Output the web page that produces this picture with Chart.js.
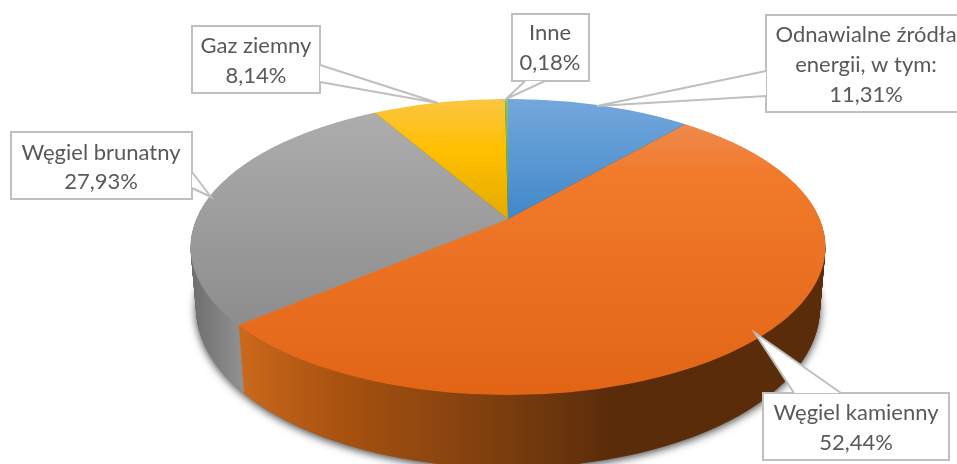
<!DOCTYPE html>
<html lang="pl">
<head>
<meta charset="utf-8">
<title>Struktura paliw</title>
<style>
  html, body { margin: 0; padding: 0; background: #fff; overflow: hidden; }
  #box { position: relative; width: 957px; height: 464px; }
</style>
</head>
<body>
<div id="box"><canvas id="myChart"></canvas></div>

<script src="https://cdn.jsdelivr.net/npm/chart.js@4/dist/chart.umd.min.js"></script>
<script>
// data
const categories = [['Odnawialne źródła', 'energii, w tym:'], ['Węgiel kamienny'], ['Węgiel brunatny'], ['Gaz ziemny'], ['Inne']];
const shares = [11.31, 52.44, 27.93, 8.14, 0.18];

// top face gradients, [page y, colour]
const topStops = [
  [[98, '#74a8dc'], [218, '#4088c9']],
  [[120, '#ef8a4e'], [175, '#f17a2b'], [394, '#e26516']],
  [[112, '#adadad'], [330, '#8c8c8c']],
  [[98, '#fbc544'], [150, '#ffc000'], [219, '#e4aa00']],
  [[98, '#8cc168'], [219, '#5f9c38']]
];
// side wall gradients, [page x, colour]
const wallStops = [
  [[508, '#2a4f73'], [690, '#2a4f73']],
  [[240, '#cb681b'], [340, '#a85210'], [500, '#7c3e0e'], [610, '#5b2c0a'], [825, '#5b2c0a']],
  [[190, '#6c6c6c'], [245, '#939393']],
  [[373, '#8a6a00'], [508, '#8a6a00']],
  [[505, '#3f6a25'], [508, '#3f6a25']]
];

// callout boxes: rectangle, pointer (base, tip, base), label centre and line ys
const callouts = [
  { box: [766, 15, 200, 97], ptr: [[766, 71], [597, 106], [766, 96]], cx: 866, ys: [35, 65], pct: 95 },
  { box: [763, 393, 186, 67], ptr: [[841, 393], [755, 333], [794, 393]], cx: 856, ys: [413], pct: 443 },
  { box: [11, 132, 181, 67], ptr: [[192, 172], [211, 197], [192, 188]], cx: 101, ys: [153], pct: 182 },
  { box: [192, 26, 128, 67], ptr: [[320, 65], [438, 103], [320, 82]], cx: 256, ys: [46], pct: 76 },
  { box: [512, 14, 77, 67], ptr: [[545, 81], [506, 99], [525, 81]], cx: 550, ys: [33], pct: 63 }
];

// projection of the flat doughnut onto the tilted disc
const topRim = { x: 508, y: 247, rx: 317.5, ry: 148 };
const bottomRim = { x: 508, y: 308, rx: 312, ry: 160 };
const apex = { x: 508, y: 219, drop: 70 };
const tilt = 0.46;
const spread = 430;
const wallSteps = 80;

function pct(v) {
  return v.toFixed(2).replace('.', ',') + '%';
}

const pie3d = {
  id: 'pie3d',
  beforeDatasetsDraw(chart) {
    const ctx = chart.ctx;
    const arcs = chart.getDatasetMeta(0).data;
    const cx = arcs[0].x, cy = arcs[0].y, R = arcs[0].outerRadius;
    const sx = spread / R, sy = spread * tilt / R;
    const toX = x => cx + (x - apex.x) / sx;
    const toY = y => cy + (y - apex.y) / sy;

    function paint(i, fill, ax, ay) {
      const arc = arcs[i];
      const keep = arc.options;
      arc.options = Object.assign({}, keep, { backgroundColor: fill, borderWidth: 0 });
      ctx.save();
      ctx.translate(ax, ay);
      ctx.scale(sx, sy);
      ctx.translate(-cx, -cy);
      arc.draw(ctx);
      ctx.restore();
      arc.options = keep;
    }

    // soft shadow under the disc
    ctx.save();
    ctx.shadowColor = 'rgba(0,0,0,0.75)';
    ctx.shadowBlur = 8;
    ctx.shadowOffsetY = 2;
    ctx.fillStyle = '#666';
    ctx.beginPath();
    ctx.ellipse(bottomRim.x, bottomRim.y, bottomRim.rx, bottomRim.ry, 0, 0, Math.PI * 2);
    ctx.fill();
    ctx.restore();

    // side wall, stacked from the bottom rim up
    const wallFills = wallStops.map(stops => {
      const x0 = stops[0][0], x1 = stops[stops.length - 1][0];
      const g = ctx.createLinearGradient(toX(x0), 0, toX(x1), 0);
      stops.forEach(s => g.addColorStop((s[0] - x0) / (x1 - x0), s[1]));
      return g;
    });
    for (let n = wallSteps; n > 0; n--) {
      const t = n / wallSteps;
      ctx.save();
      ctx.beginPath();
      ctx.ellipse(topRim.x, topRim.y + (bottomRim.y - topRim.y) * t,
        topRim.rx + (bottomRim.rx - topRim.rx) * t, topRim.ry + (bottomRim.ry - topRim.ry) * t,
        0, 0, Math.PI * 2);
      ctx.clip();
      arcs.forEach((a, i) => paint(i, wallFills[i], apex.x, apex.y + apex.drop * t));
      ctx.restore();
    }

    // top face
    ctx.save();
    ctx.beginPath();
    ctx.ellipse(topRim.x, topRim.y, topRim.rx, topRim.ry, 0, 0, Math.PI * 2);
    ctx.clip();
    arcs.forEach((a, i) => {
      const stops = topStops[i];
      const y0 = stops[0][0], y1 = stops[stops.length - 1][0];
      const g = ctx.createLinearGradient(0, toY(y0), 0, toY(y1));
      stops.forEach(s => g.addColorStop((s[0] - y0) / (y1 - y0), s[1]));
      paint(i, g, apex.x, apex.y);
    });
    ctx.restore();

    return false;
  },
  afterDraw(chart) {
    const ctx = chart.ctx;
    ctx.save();
    ctx.font = '22px Lato';
    ctx.textAlign = 'center';
    ctx.textBaseline = 'middle';
    callouts.forEach((c, i) => {
      const [x, y, w, h] = c.box;
      ctx.fillStyle = '#fff';
      ctx.strokeStyle = '#bfbfbf';
      ctx.lineWidth = 2;
      // box first, then the pointer on top, which blanks out the seam between them
      ctx.fillRect(x, y, w, h);
      ctx.strokeRect(x, y, w, h);
      ctx.beginPath();
      ctx.moveTo(c.ptr[0][0], c.ptr[0][1]);
      ctx.lineTo(c.ptr[1][0], c.ptr[1][1]);
      ctx.lineTo(c.ptr[2][0], c.ptr[2][1]);
      ctx.closePath();
      ctx.fill();
      ctx.beginPath();
      ctx.moveTo(c.ptr[0][0], c.ptr[0][1]);
      ctx.lineTo(c.ptr[1][0], c.ptr[1][1]);
      ctx.lineTo(c.ptr[2][0], c.ptr[2][1]);
      ctx.stroke();
      ctx.fillStyle = '#595959';
      categories[i].forEach((line, k) => ctx.fillText(line, c.cx, c.ys[k]));
      ctx.fillText(pct(shares[i]), c.cx, c.pct);
    });
    ctx.restore();
  }
};

new Chart(document.getElementById('myChart'), {
  type: 'pie',
  data: {
    labels: categories,
    datasets: [{ data: shares, backgroundColor: ['#5b9bd5', '#ed7d31', '#a5a5a5', '#ffc000', '#70ad47'], borderWidth: 0 }]
  },
  options: {
    responsive: true,
    maintainAspectRatio: false,
    animation: false,
    plugins: { legend: { display: false }, tooltip: { enabled: false } }
  },
  plugins: [pie3d]
});
</script>
</body>
</html>
